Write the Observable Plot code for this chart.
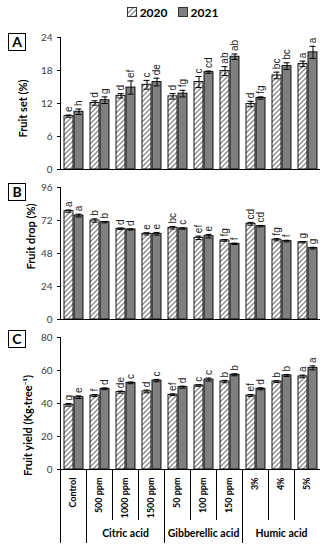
<!DOCTYPE html>
<html><head><meta charset="utf-8">
<script src="https://cdn.jsdelivr.net/npm/d3@7"></script>
<script src="https://cdn.jsdelivr.net/npm/@observablehq/plot@0.6"></script>
<style>
body{margin:0;background:#fff;}
#wrap{position:relative;width:325px;height:550px;overflow:hidden;background:#fff;}
.legend{height:24px;display:flex;justify-content:center;align-items:center;font:bold 12px Lato,sans-serif;padding-left:20px;box-sizing:border-box;}
.legend .item{display:flex;align-items:center;margin:0 5px;}
.legend .sw{width:8px;height:8px;border:1px solid #333;margin-right:3px;}
.box{position:absolute;left:8px;width:16px;height:16px;border:1px solid #000;font:bold 14px Lato,sans-serif;text-align:center;line-height:16px;background:#fff;}
svg.plot{display:block;overflow:visible;}
[aria-label="y-axis tick label"]{fill:#404040;}
[aria-label="x-axis tick label"]{font-weight:bold;font-size:9px;}
</style>
</head><body>
<svg width="0" height="0" style="position:absolute">
  <defs>
    <pattern id="hatch" patternUnits="userSpaceOnUse" width="5" height="5">
      <rect width="5" height="5" fill="#fff"/>
      <path d="M0,5 L5,0 M-1,1 L1,-1 M4,6 L6,4" stroke="#8c8c8c" stroke-width="1.4"/>
    </pattern>
  </defs>
</svg>
<div id="wrap">
  <div class="legend">
    <div class="item"><div class="sw"><svg width="8" height="8" style="display:block"><rect width="8" height="8" fill="url(#hatch)"/></svg></div><span>2020</span></div>
    <div class="item"><div class="sw" style="background:#7f7f7f;"></div><span>2021</span></div>
  </div>
  <div id="charts"></div>
  <div class="box" style="top:33px">A</div>
  <div class="box" style="top:183px">B</div>
  <div class="box" style="top:330px">C</div>
</div>
<script>
const treatments = ["Control","500 ppm","1000 ppm","1500 ppm","50 ppm","100 ppm","150 ppm","3%","4%","5%"];
const groupNames = ["Citric acid","Gibberellic acid","Humic acid"];
const groupCenters = ["1000 ppm","100 ppm","4%"];
const groupStarts = ["Control","500 ppm","50 ppm","3%"];
const innerSplits = ["1000 ppm","1500 ppm","100 ppm","150 ppm","4%","5%"];

// Panel A: Fruit set (%)
const set2020 = [9.7,12.1,13.4,15.4,13.3,15.9,17.9,11.9,17.1,19.2];
const set2021 = [10.5,12.6,14.9,15.9,13.8,17.7,20.5,13.0,18.8,21.3];
const setErr2020 = [0.2,0.4,0.4,0.8,0.5,1.0,0.8,0.5,0.6,0.5];
const setErr2021 = [0.5,0.6,1.2,0.7,0.6,0.2,0.5,0.2,0.6,1.1];
const setLet2020 = ["e","d","d","c","d","c","ab","d","bc","a"];
const setLet2021 = ["h","g","ef","de","fg","cd","ab","fg","bc","a"];
const setTicks = [0,6,12,18,24];

// Panel B: Fruit drop (%)
const drop2020 = [78.8,72.0,66.0,62.3,66.7,59.4,57.5,69.6,58.0,56.2];
const drop2021 = [75.6,70.8,65.5,62.3,66.2,60.6,55.0,67.9,57.0,51.9];
const dropErr2020 = [0.8,1.2,0.5,0.8,0.9,1.2,0.6,1.0,0.8,0.5];
const dropErr2021 = [1.0,0.5,0.4,0.9,0.5,1.3,0.5,0.5,0.6,0.6];
const dropLet2020 = ["a","b","d","e","bc","ef","fg","cd","fg","g"];
const dropLet2021 = ["a","b","d","e","c","e","f","cd","f","g"];
const dropTicks = [0,24,48,72,96];

// Panel C: Fruit yield (Kg·tree⁻¹)
const yield2020 = [39.2,44.8,46.9,47.3,45.3,50.9,53.3,44.8,53.3,56.4];
const yield2021 = [43.8,48.9,52.5,53.9,49.9,54.5,57.4,48.9,57.0,61.6];
const yieldErr2020 = [0.8,0.6,0.6,0.8,0.5,0.5,0.7,0.6,0.5,0.8];
const yieldErr2021 = [0.8,0.5,0.5,0.7,0.6,0.9,0.6,0.6,0.6,1.2];
const yieldLet2020 = ["g","f","de","d","ef","c","b","ef","b","a"];
const yieldLet2021 = ["e","d","c","c","d","c","b","d","b","a"];
const yieldTicks = [0,20,40,60,80];

function rowsOf(v, e, l){ return treatments.map((t,i)=>({t, v:v[i], e:e[i], l:l[i]})); }

function panel({a, b, ticks, label, labelDx, labelDy, height, marginTop, marginBottom, showX}) {
  const base = {x:"t"};
  const letterFont = {fontFamily:"Liberation Sans, Arial, sans-serif", fontSize:10, fill:"#222"};
  const marks = [
    Plot.barY(a, {...base, y:"v", fill:"url(#hatch)", stroke:"#000", strokeWidth:0.9, insetLeft:4, insetRight:13}),
    Plot.barY(b, {...base, y:"v", fill:"#7f7f7f", stroke:"#000", strokeWidth:0.9, insetLeft:14, insetRight:3}),
    Plot.ruleX(a, {...base, y1:d=>d.v-d.e, y2:d=>d.v+d.e, dx:-4.5, stroke:"#000", strokeWidth:1}),
    Plot.ruleX(b, {...base, y1:d=>d.v-d.e, y2:d=>d.v+d.e, dx:5.5, stroke:"#000", strokeWidth:1}),
    Plot.tickY(a, {...base, y:d=>d.v+d.e, insetLeft:5.5, insetRight:14.5, stroke:"#000", strokeWidth:1}),
    Plot.tickY(a, {...base, y:d=>d.v-d.e, insetLeft:5.5, insetRight:14.5, stroke:"#000", strokeWidth:1}),
    Plot.tickY(b, {...base, y:d=>d.v+d.e, insetLeft:15.5, insetRight:4.5, stroke:"#000", strokeWidth:1}),
    Plot.tickY(b, {...base, y:d=>d.v-d.e, insetLeft:15.5, insetRight:4.5, stroke:"#000", strokeWidth:1}),
    Plot.text(a, {...base, y:d=>d.v+d.e, text:"l", rotate:-90, textAnchor:"start", lineAnchor:"middle", dx:-4.5, dy:-3, ...letterFont}),
    Plot.text(b, {...base, y:d=>d.v+d.e, text:"l", rotate:-90, textAnchor:"start", lineAnchor:"middle", dx:5.5, dy:-3, ...letterFont}),
    Plot.ruleY([0], {stroke:"#000", strokeWidth:1}),
    Plot.text([label], {frameAnchor:"left", rotate:-90, textAnchor:"middle", lineAnchor:"middle", dx:labelDx, dy:labelDy, fontWeight:"bold", fontSize:11, fill:"#000"})
  ];
  if (showX) {
    marks.push(
      Plot.ruleX(groupStarts, {x:d=>d, dx:-13, y1:0, y2:0, insetBottom:-74, stroke:"#000", strokeWidth:1}),
      Plot.ruleX(innerSplits, {x:d=>d, dx:-13, y1:0, y2:0, insetBottom:-51, stroke:"#000", strokeWidth:1}),
      Plot.text(groupNames, {x:(d,i)=>groupCenters[i], frameAnchor:"bottom", dy:67, fontWeight:"bold", fontSize:10.5, fill:"#000"})
    );
  }
  return Plot.plot({
    width:325, height, marginLeft:60, marginRight:5, marginTop, marginBottom,
    className:"plot",
    style:{fontFamily:"Lato, sans-serif", fontSize:"10px", color:"#000", background:"transparent", overflow:"visible"},
    x:{domain:treatments, padding:0, axis: showX ? "bottom" : null, tickRotate:-90, tickSize:0, tickPadding:8, label:null, tickFormat:d=>d},
    y:{domain:[ticks[0], ticks[ticks.length-1]], ticks, tickSize:3, tickPadding:5, line:true, label:null},
    marks
  });
}

const charts = document.getElementById("charts");
charts.appendChild(panel({a:rowsOf(set2020,setErr2020,setLet2020), b:rowsOf(set2021,setErr2021,setLet2021), ticks:setTicks, label:"Fruit set (%)", labelDx:-37, labelDy:5, height:148, marginTop:13, marginBottom:3, showX:false}));
charts.appendChild(panel({a:rowsOf(drop2020,dropErr2020,dropLet2020), b:rowsOf(drop2021,dropErr2021,dropLet2021), ticks:dropTicks, label:"Fruit drop (%)", labelDx:-29, labelDy:-17, height:150, marginTop:15, marginBottom:3, showX:false}));
charts.appendChild(panel({a:rowsOf(yield2020,yieldErr2020,yieldLet2020), b:rowsOf(yield2021,yieldErr2021,yieldLet2021), ticks:yieldTicks, label:"Fruit yield (Kg·tree⁻¹)", labelDx:-32, labelDy:22, height:228, marginTop:15, marginBottom:81, showX:true}));
</script>
</body></html>
